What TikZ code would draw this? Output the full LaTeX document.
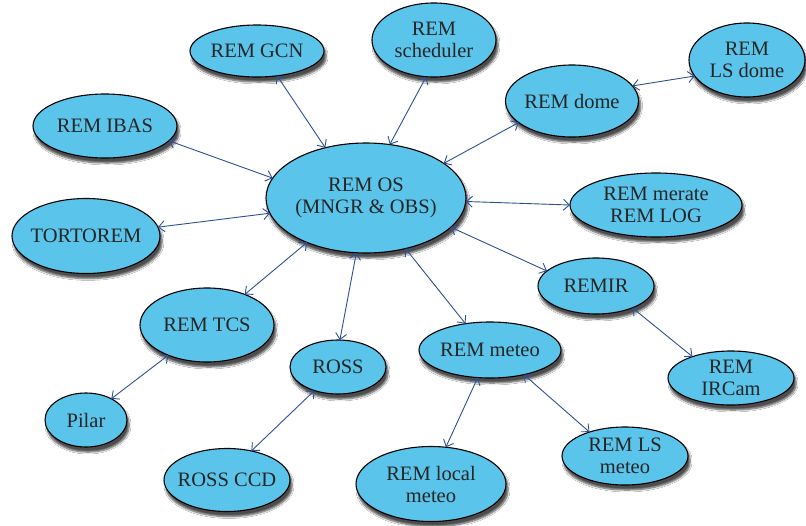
\documentclass[tikz,border=0pt]{standalone}
\usepackage{fontspec}
\setmainfont{Liberation Serif}
\usetikzlibrary{shapes.geometric,arrows.meta,shadows.blur}
\definecolor{nodefill}{RGB}{90,196,234}
\definecolor{arrowblue}{RGB}{45,80,150}
\definecolor{textgray}{RGB}{38,38,38}
\tikzset{
  box/.style={ellipse, draw=black, line width=1.1pt, fill=nodefill,
    inner xsep=-8pt, inner ysep=0pt, outer sep=0pt, align=center,
    text=textgray, font=\rmfamily\fontsize{20.5}{22}\selectfont,
    blur shadow={shadow xshift=2pt, shadow yshift=-5pt, shadow opacity=70, shadow blur steps=6, shadow blur extra rounding=2pt}},
  link/.style={draw=arrowblue, line width=0.9pt,
    {Straight Barb[length=6pt,width=11pt,line width=0.9pt]}-{Straight Barb[length=6pt,width=11pt,line width=0.9pt]}}
}
\begin{document}
\begin{tikzpicture}[x=1pt,y=-1pt]
\useasboundingbox[fill=white] (0,0) rectangle (806,525);
% nodes
\node[box, minimum width=200pt, minimum height=110pt] (os) at (366,198) {REM OS\\(MNGR \& OBS)};
\node[box, minimum width=134pt, minimum height=52pt] (gcn) at (257,51) {REM GCN};
\node[box, minimum width=124pt, minimum height=74pt] (sched) at (434,40) {REM\\scheduler};
\node[box, minimum width=133pt, minimum height=72pt] (dome) at (572,101) {REM dome};
\node[box, minimum width=116pt, minimum height=74pt] (lsdome) at (747,60) {REM\\LS dome};
\node[box, minimum width=144pt, minimum height=64pt] (ibas) at (105,126) {REM IBAS};
\node[box, minimum width=148pt, minimum height=75pt] (tort) at (86,236) {TORTOREM};
\node[box, minimum width=172pt, minimum height=64pt] (merate) at (656,205) {REM merate\\REM LOG};
\node[box, minimum width=116pt, minimum height=56pt] (remir) at (596,286) {REMIR};
\node[box, minimum width=126pt, minimum height=54pt] (ircam) at (731,378) {REM\\IRCam};
\node[box, minimum width=134pt, minimum height=74pt] (tcs) at (207,325) {REM TCS};
\node[box, minimum width=96pt, minimum height=54pt] (ross) at (338,367) {ROSS};
\node[box, minimum width=82pt, minimum height=54pt] (pilar) at (86,420) {Pilar};
\node[box, minimum width=126pt, minimum height=63pt] (rossccd) at (227,480) {ROSS CCD};
\node[box, minimum width=142pt, minimum height=56pt] (meteo) at (490,350) {REM meteo};
\node[box, minimum width=150pt, minimum height=75pt] (local) at (431,484) {REM local\\meteo};
\node[box, minimum width=126pt, minimum height=58pt] (lsmeteo) at (625,456) {REM LS\\meteo};
% connectors
\draw[link] (gcn.-51) -- (os.129);
\draw[link] (sched.-102) -- (os.66);
\draw[link] (dome.202) -- (os.24);
\draw[link] (dome.14) -- (lsdome.197);
\draw[link] (ibas.-13) -- (os.168);
\draw[link] (tort.7) -- (os.189);
\draw[link] (os.-2) -- (merate.180);
\draw[link] (os.-19) -- (remir.163);
\draw[link] (remir.-31) -- (ircam.151);
\draw[link] (os.-52) -- (meteo.133);
\draw[link] (os.-100) -- (ross.86);
\draw[link] (os.217) -- (tcs.39);
\draw[link] (tcs.218) -- (pilar.40);
\draw[link] (ross.225) -- (rossccd.50);
\draw[link] (meteo.246) -- (local.68);
\draw[link] (meteo.-36) -- (lsmeteo.146);
\end{tikzpicture}
\end{document}
